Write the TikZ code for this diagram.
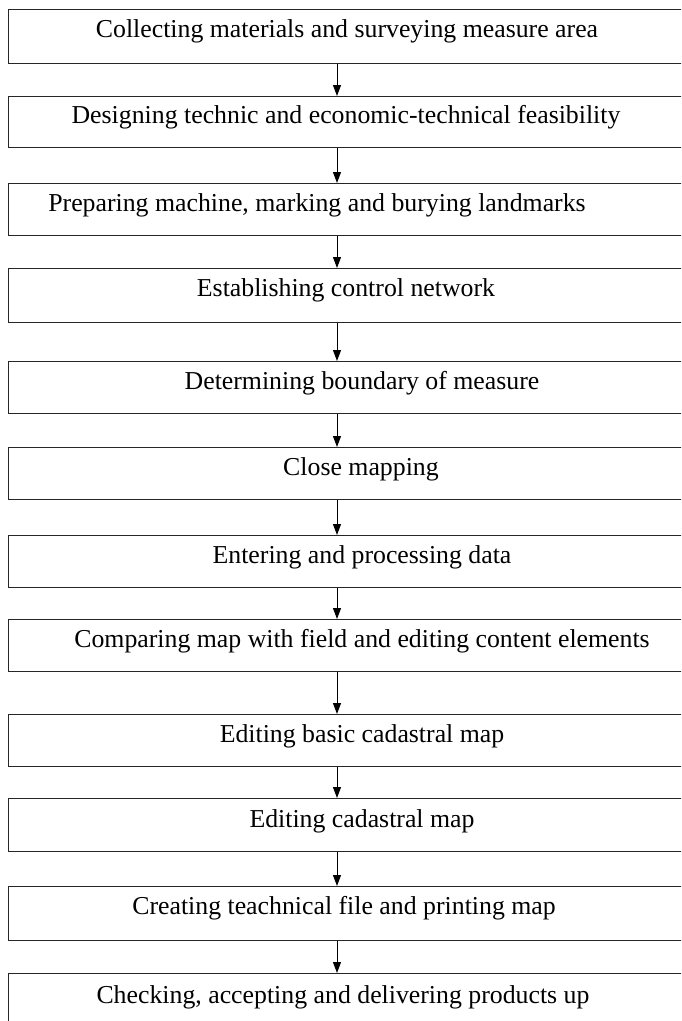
\documentclass[tikz,border=0pt]{standalone}
\usepackage{fontspec}
\setmainfont{Liberation Serif}
\usetikzlibrary{arrows.meta}
\tikzset{
  stepbox/.style={draw=black!85, line width=1.4pt, rectangle, inner sep=0pt},
  steptext/.style={anchor=base, inner sep=0pt, font=\fontsize{25.8}{30}\selectfont},
  flow/.style={draw=black, line width=1pt, -{Triangle[length=11pt,width=8pt]}}
}
\begin{document}
\begin{tikzpicture}[x=1pt,y=-1pt]
\useasboundingbox (0,0) rectangle (681,1021);
\clip (0,0) rectangle (681,1021);
\coordinate (ax) at (337,0);
% boxes: name / top / bottom
\foreach \n/\t/\b in {1/9/63, 2/96/147, 3/183/235, 4/268/322, 5/361/413, 6/447/499, 7/535/587, 8/619/671, 9/714/766, 10/798/851, 11/886/940, 12/973/1040}{
  \node[stepbox, minimum width={695pt}, minimum height={(\b-\t)*1pt}, anchor=north west] (b\n) at (8,\t) {};
}
\node[steptext] (t1) at (347,37) {Collecting materials and surveying measure area};
\node[steptext] (t2) at (346,123) {Designing technic and economic-technical feasibility};
\node[steptext] (t3) at (317,211) {Preparing machine, marking and burying landmarks};
\node[steptext] (t4) at (346,296) {Establishing control network};
\node[steptext] (t5) at (362,389) {Determining boundary of measure};
\node[steptext] (t6) at (361,475) {Close mapping};
\node[steptext] (t7) at (362,563) {Entering and processing data};
\node[steptext] (t8) at (362,647) {Comparing map with field and editing content elements};
\node[steptext] (t9) at (362,742) {Editing basic cadastral map};
\node[steptext] (t10) at (362,827) {Editing cadastral map};
\node[steptext] (t11) at (344,914) {Creating teachnical file and printing map};
\node[steptext] (t12) at (343,1003) {Checking, accepting and delivering products up};
\foreach \i [evaluate=\i as \j using int(\i+1)] in {1,...,11}{
  \draw[flow] (b\i.south -| ax) -- (b\j.north -| ax);
}
\end{tikzpicture}
\end{document}
